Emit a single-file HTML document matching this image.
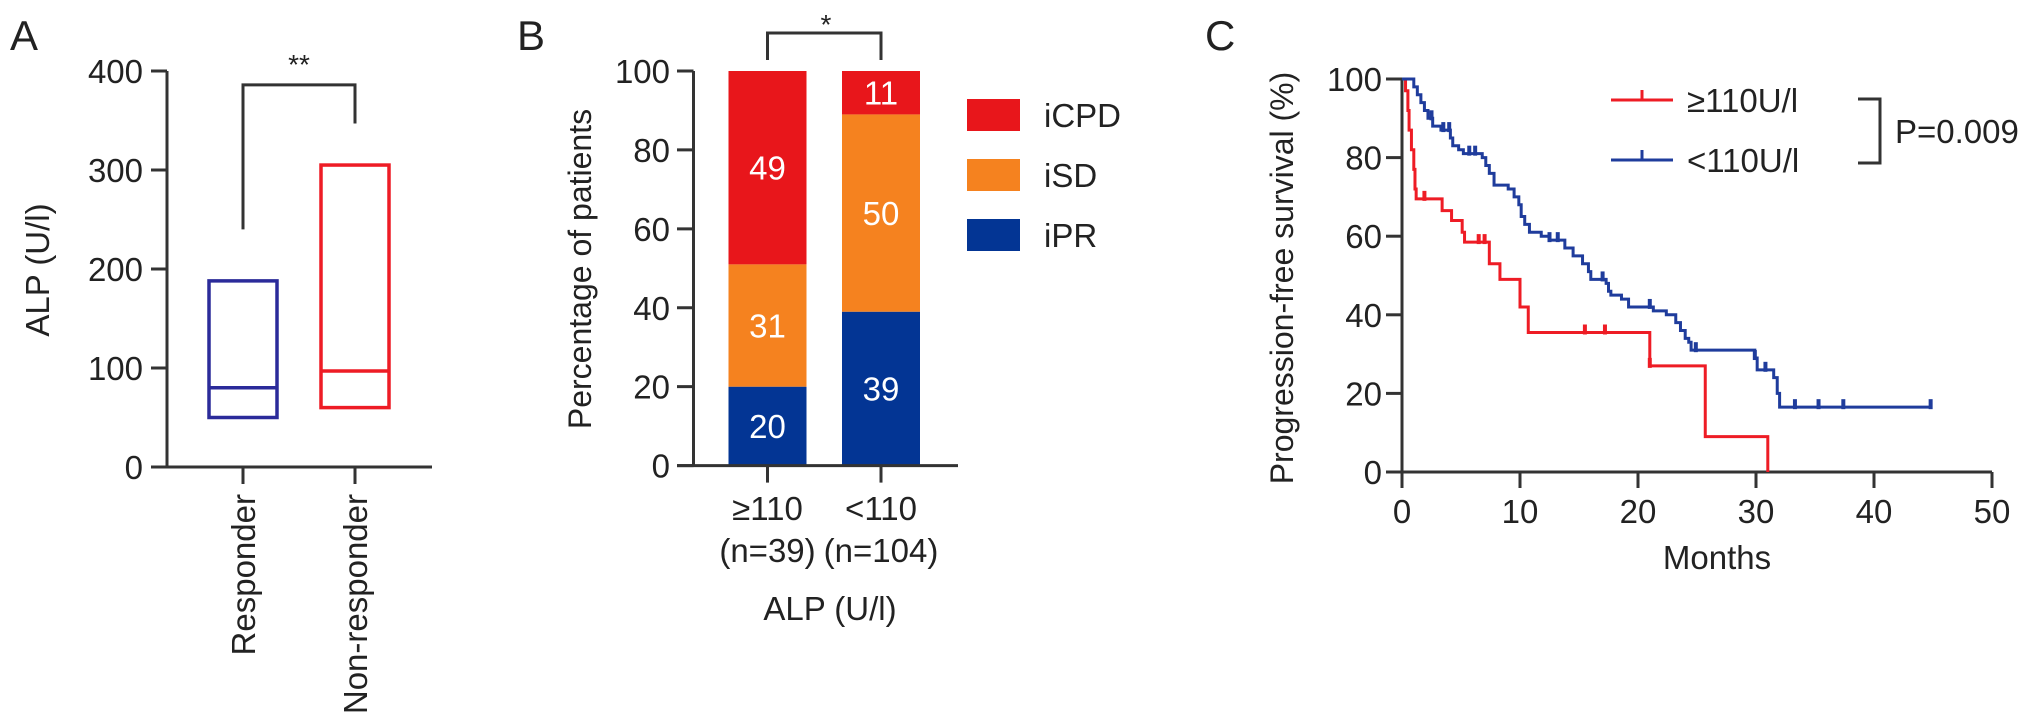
<!DOCTYPE html>
<html><head><meta charset="utf-8"><style>
body{margin:0;background:#fff}
svg{display:block;font-family:"Liberation Sans",sans-serif}
text{fill:#222}
</style></head><body>
<svg id="fig" width="2032" height="728" viewBox="0 0 2032 728" xmlns="http://www.w3.org/2000/svg">
<g id="pa"></g>
<g id="pb"></g>
<g id="pc"></g>
</svg>
<script>
// Panel A data
const aGroups = ["Responder", "Non-responder"];
const aTop = [188, 305];
const aMedian = [80, 97];
const aBottom = [50, 60];
const aTicks = [0, 100, 200, 300, 400];
// Panel B data
const bCats = ["≥110", "<110"];
const bSub = ["(n=39)", "(n=104)"];
const bPR = [20, 39];
const bSD = [31, 50];
const bCPD = [49, 11];
const bTicks = [0, 20, 40, 60, 80, 100];
const bLegend = ["iCPD", "iSD", "iPR"];
// Panel C data
const redT = [0, 0.3, 0.5, 0.6, 0.8, 1.0, 1.1, 1.2, 3.4, 4.2, 5.1, 5.3, 7.4, 8.3, 10.0, 10.7, 21.0, 25.7, 31.0];
const redS = [100, 97, 92, 87, 82, 77, 72, 69.5, 66.5, 64, 61, 58.5, 53, 49, 42, 35.5, 27, 9, 0];
const redEnd = 31.0;
const redCens = [1.9, 6.5, 7.0, 15.5, 17.2, 21.0];
const blueT = [0, 1.0, 1.3, 1.6, 1.9, 2.2, 2.6, 3.3, 4.1, 4.3, 4.8, 5.2, 6.8, 7.1, 7.4, 7.8, 9.0, 9.5, 9.9, 10.1, 10.4, 10.8, 11.8, 12.5, 13.8, 14.5, 15.3, 15.8, 16.0, 17.3, 17.5, 17.7, 18.6, 19.2, 21.3, 22.4, 23.2, 23.6, 24.0, 24.3, 24.5, 29.9, 30.1, 31.5, 31.8, 32.0];
const blueS = [100, 98, 96, 94, 92, 90, 88, 87, 85, 83, 82, 81, 80, 78, 76, 73, 72, 70, 68, 65, 63, 61, 60, 59, 57, 55, 53, 51, 49, 48, 46, 45, 44, 42, 41, 40, 38, 36, 34, 33, 31, 29, 26, 24, 20, 16.5];
const blueEnd = 44.8;
const blueCens = [2.5, 3.5, 4.0, 5.7, 6.2, 12.5, 13.2, 17.0, 21.0, 24.9, 29.9, 30.8, 33.3, 35.3, 37.4, 44.8];
const cXTicks = [0, 10, 20, 30, 40, 50];
const cYTicks = [0, 20, 40, 60, 80, 100];

const NS = "http://www.w3.org/2000/svg";
function mk(parent, tag, attrs, txt) {
  const e = document.createElementNS(NS, tag);
  for (const k in attrs) e.setAttribute(k, attrs[k]);
  if (txt !== undefined) e.textContent = txt;
  parent.appendChild(e);
  return e;
}
const AX = "#333";
const FS = 33;
const SW = 3;
let e;

// ---------- Panel A ----------
const pa = document.getElementById("pa");
const ay = v => 467 - v * 0.99;
const ax = i => [243, 355][i];
e = mk(pa, "text", {x: 10, y: 50, "font-size": 42}, "A");
 
e = mk(pa, "line", {x1: 167, y1: ay(400), x2: 167, y2: ay(0), stroke: AX, "stroke-width": SW});
 
e = mk(pa, "line", {x1: 151, y1: ay(0), x2: 432, y2: ay(0), stroke: AX, "stroke-width": SW});
 
aTicks.forEach(t => {
  e = mk(pa, "line", {x1: 151, y1: ay(t), x2: 167, y2: ay(t), stroke: AX, "stroke-width": SW});
   
  e = mk(pa, "text", {x: 143, y: ay(t) + 12, "font-size": FS, "text-anchor": "end"}, t);
   
});
e = mk(pa, "text", {x: 0, y: 0, "font-size": FS, "text-anchor": "middle", transform: "translate(49,270) rotate(-90)"}, "ALP (U/l)");
 
const aCol = ["#2b2b9a", "#ee1c25"];
aGroups.forEach((g, i) => {
  const cx = ax(i);
  e = mk(pa, "line", {x1: cx, y1: ay(0), x2: cx, y2: ay(0) + 17, stroke: AX, "stroke-width": SW});
   
  e = mk(pa, "text", {x: 0, y: 0, "font-size": FS, "text-anchor": "end", transform: `translate(${cx + 12},494) rotate(-90)`}, g);
   
  e = mk(pa, "rect", {x: cx - 34, y: ay(aTop[i]), width: 68, height: ay(aBottom[i]) - ay(aTop[i]), fill: "none", stroke: aCol[i], "stroke-width": 3.5});
   
  e = mk(pa, "line", {x1: cx - 34, y1: ay(aMedian[i]), x2: cx + 34, y2: ay(aMedian[i]), stroke: aCol[i], "stroke-width": 3.5});
   
});
e = mk(pa, "path", {d: `M${ax(0)},${ay(240)} V${ay(386)} H${ax(1)} V${ay(347)}`, fill: "none", stroke: AX, "stroke-width": SW});
 
e = mk(pa, "text", {x: 299, y: 74, "font-size": 28, "text-anchor": "middle"}, "**");
 

// ---------- Panel B ----------
const pb = document.getElementById("pb");
const by = v => 465.6 - v * 3.946;
const bx = i => [767.5, 881][i];
e = mk(pb, "text", {x: 517, y: 50, "font-size": 42}, "B");
 
const bCol = {PR: "#033594", SD: "#f5821f", CPD: "#e8161b"};
bCats.forEach((c, i) => {
  const segs = [[bPR[i], bCol.PR, "ipr"], [bSD[i], bCol.SD, "isd"], [bCPD[i], bCol.CPD, "icpd"]];
  let base = 0;
  segs.forEach(([v, col, nm]) => {
    const top = Math.min(100, base + v);
    e = mk(pb, "rect", {x: bx(i) - 39, y: by(top), width: 78, height: by(base) - by(top), fill: col});
     
    e = mk(pb, "text", {x: bx(i), y: (by(top) + by(base)) / 2 + 12, "font-size": FS, "text-anchor": "middle", style: "fill:#fff"}, v);
     
    base = top;
  });
  e = mk(pb, "line", {x1: bx(i), y1: by(0), x2: bx(i), y2: by(0) + 17, stroke: AX, "stroke-width": SW});
   
  e = mk(pb, "text", {x: bx(i), y: 520, "font-size": FS, "text-anchor": "middle"}, c);
   
  e = mk(pb, "text", {x: bx(i), y: 562, "font-size": FS, "text-anchor": "middle"}, bSub[i]);
   
});
e = mk(pb, "line", {x1: 693.5, y1: by(100), x2: 693.5, y2: by(0), stroke: AX, "stroke-width": SW});
 
e = mk(pb, "line", {x1: 677, y1: by(0), x2: 958, y2: by(0), stroke: AX, "stroke-width": SW});
 
bTicks.forEach(t => {
  e = mk(pb, "line", {x1: 677, y1: by(t), x2: 693.5, y2: by(t), stroke: AX, "stroke-width": SW});
   
  e = mk(pb, "text", {x: 670, y: by(t) + 12, "font-size": FS, "text-anchor": "end"}, t);
   
});
e = mk(pb, "text", {x: 0, y: 0, "font-size": 32, "text-anchor": "middle", transform: "translate(591,269) rotate(-90)"}, "Percentage of patients");
 
e = mk(pb, "text", {x: 830, y: 620, "font-size": FS, "text-anchor": "middle"}, "ALP (U/l)");
 
e = mk(pb, "path", {d: `M${bx(0)},60 V33 H${bx(1)} V60`, fill: "none", stroke: AX, "stroke-width": SW});
 
e = mk(pb, "text", {x: 826, y: 34, "font-size": 28, "text-anchor": "middle"}, "*");
 
const legCol = [bCol.CPD, bCol.SD, bCol.PR];
bLegend.forEach((l, i) => {
  e = mk(pb, "rect", {x: 967, y: 99 + i * 60, width: 53, height: 32, fill: legCol[i]});
   
  e = mk(pb, "text", {x: 1044, y: 127 + i * 60, "font-size": FS}, l);
   
});

// ---------- Panel C ----------
const pc = document.getElementById("pc");
const cx = m => 1402 + m * 11.8;
const cy = s => 472 - s * 3.93;
e = mk(pc, "text", {x: 1205, y: 50, "font-size": 42}, "C");
 
e = mk(pc, "line", {x1: cx(0), y1: cy(100), x2: cx(0), y2: cy(0), stroke: AX, "stroke-width": SW});
 
e = mk(pc, "line", {x1: cx(0) - 16, y1: cy(0), x2: cx(50), y2: cy(0), stroke: AX, "stroke-width": SW});
 
cYTicks.forEach(t => {
  e = mk(pc, "line", {x1: cx(0) - 16, y1: cy(t), x2: cx(0), y2: cy(t), stroke: AX, "stroke-width": SW});
   
  e = mk(pc, "text", {x: cx(0) - 20, y: cy(t) + 12, "font-size": FS, "text-anchor": "end"}, t);
   
});
cXTicks.forEach(t => {
  e = mk(pc, "line", {x1: cx(t), y1: cy(0), x2: cx(t), y2: cy(0) + 16, stroke: AX, "stroke-width": SW});
   
  e = mk(pc, "text", {x: cx(t), y: 523, "font-size": FS, "text-anchor": "middle"}, t);
   
});
e = mk(pc, "text", {x: 1717, y: 569, "font-size": FS, "text-anchor": "middle"}, "Months");
 
e = mk(pc, "text", {x: 0, y: 0, "font-size": 32, "text-anchor": "middle", transform: "translate(1293,278) rotate(-90)"}, "Progression-free survival (%)");
 
function stepAt(T, S, t) { let s = S[0]; for (let i = 0; i < T.length; i++) if (T[i] <= t) s = S[i]; return s; }
function km(T, S, end, cens, col, nm) {
  let d = `M${cx(T[0])},${cy(S[0])}`;
  for (let i = 1; i < T.length; i++) d += ` H${cx(T[i])} V${cy(S[i])}`;
  d += ` H${cx(end)}`;
  e = mk(pc, "path", {d, fill: "none", stroke: col, "stroke-width": 3});
   
  cens.forEach(t => {
    const s = stepAt(T, S, t);
    e = mk(pc, "line", {x1: cx(t), y1: cy(s) + 2, x2: cx(t), y2: cy(s) - 8, stroke: col, "stroke-width": 4});
     
  });
}
km(redT, redS, redEnd, redCens, "#ee1c25", "high-alp");
km(blueT, blueS, blueEnd, blueCens, "#1f3c9c", "low-alp");
[["≥110U/l", "#ee1c25", 100], ["<110U/l", "#1f3c9c", 160]].forEach(([l, col, y], i) => {
  e = mk(pc, "path", {d: `M1611,${y} H1673 M1642,${y} V${y - 10}`, stroke: col, "stroke-width": 3, fill: "none"});
   
  e = mk(pc, "text", {x: 1687, y: y + 12, "font-size": FS}, l);
   
});
e = mk(pc, "path", {d: "M1858,99 H1880 V163 H1858", fill: "none", stroke: AX, "stroke-width": SW});
 
e = mk(pc, "text", {x: 1895, y: 143, "font-size": FS}, "P=0.009");
 
</script>
</body></html>
